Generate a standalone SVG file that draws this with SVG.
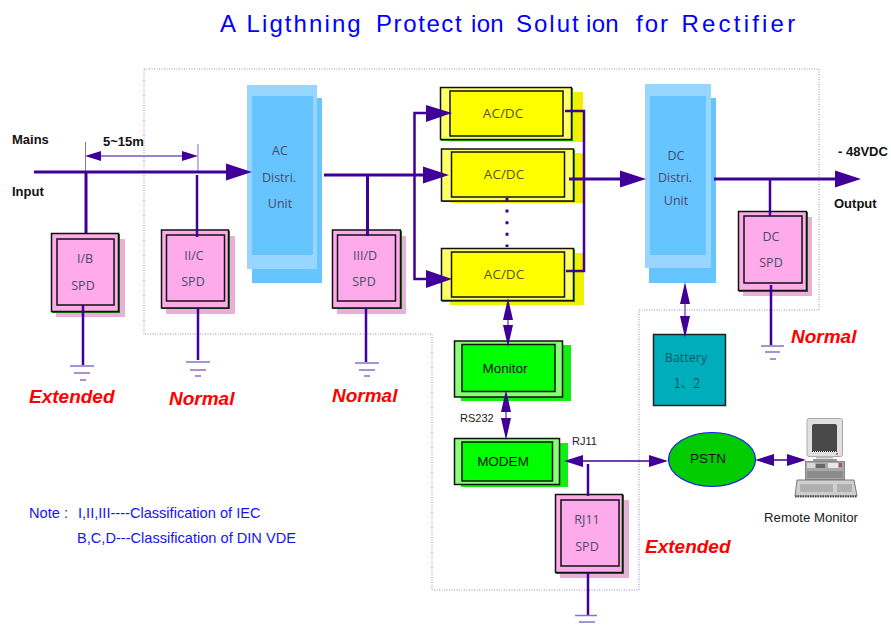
<svg xmlns="http://www.w3.org/2000/svg" width="891" height="628" viewBox="0 0 891 628">
<style>
text{font-family:"Liberation Sans",Arial,sans-serif}
.title{font-size:24px;fill:#0000ff}
.b{font-size:13px;font-weight:bold;fill:#111}
.red{font-size:19px;font-weight:bold;font-style:italic;fill:#ff0000}
.note{font-size:14.600px;fill:#1414f5}
.sm{font-size:11px;fill:#222}
.c{text-anchor:middle}
.lbl{font-family:"Open Sans","Noto Sans",sans-serif;font-size:12.500px;fill:#4a4a68;text-anchor:middle}
.lbl2{font-size:13.500px;fill:#55551e}
.blk{font-size:13.500px;fill:#111;text-anchor:middle}
.ol{stroke:#111;stroke-width:1.5}
.sp{fill:#e8b0d8}
.pk{fill:#ffaaea}
.ye{fill:#ffff66}
.yi{fill:#ffff00}
.ys{fill:#f0f000}
.gr{fill:#88ff77}
.gi{fill:#00ff00}
.gs{fill:#11ee11}
.wire{stroke:#400098;fill:none;stroke-linecap:butt}
.w3{stroke-width:3}
.w2{stroke-width:2.5}
.lt{stroke:#9a7fd0;stroke-width:2;fill:none}
.gnd{stroke:#8a6fc8;stroke-width:1.5;fill:none}
.bd{fill:none;stroke:#9a88cc;stroke-width:1;stroke-dasharray:1 1.5}
.a{fill:#400098}
</style>
<defs>
<marker id="big" markerUnits="userSpaceOnUse" markerWidth="27" markerHeight="18" refX="0" refY="9" orient="auto-start-reverse"><path class="a" d="M0 0.5L26 9L0 17.5Z"/></marker>
<marker id="dbl" markerUnits="userSpaceOnUse" markerWidth="24" markerHeight="11" refX="0" refY="5.5" orient="auto-start-reverse"><path class="a" d="M0 0.5L22 5.5L0 10.5Z"/></marker>
<marker id="mid" markerUnits="userSpaceOnUse" markerWidth="20" markerHeight="13" refX="0" refY="6.5" orient="auto-start-reverse"><path class="a" d="M0 0.5L19 6.5L0 12.5Z"/></marker>
</defs>
<rect width="891" height="628" fill="#fff"/>
<text class="title" y="32"><tspan x="220">A</tspan><tspan x="246.500" style="letter-spacing:2.100px">Ligthning</tspan><tspan x="376" style="letter-spacing:1.600px">Protect</tspan><tspan x="471" style="letter-spacing:0.300px">ion</tspan><tspan x="516" style="letter-spacing:2px">Solut</tspan><tspan x="586" style="letter-spacing:0.300px">ion</tspan><tspan x="636" style="letter-spacing:2px">for</tspan><tspan x="681.500" style="letter-spacing:3.200px">Rectifier</tspan></text>
<path class="bd" d="M144 69H819V310H639V590H432V334H144Z"/>

<g id="ac-unit">
<rect x="252" y="98" width="70" height="185" fill="#66c4ff"/>
<rect x="247" y="85" width="70" height="184" fill="#99d6ff"/>
<rect x="252" y="96" width="61" height="159" fill="#66c4ff"/>
<text class="lbl" x="280" y="155">AC</text><text class="lbl" x="279" y="182">Distri.</text><text class="lbl" x="280" y="208">Unit</text>
</g>
<g id="dc-unit">
<rect x="649" y="98" width="67" height="185" fill="#66c4ff"/>
<rect x="645" y="84" width="66" height="184" fill="#99d6ff"/>
<rect x="650" y="96" width="56" height="159" fill="#66c4ff"/>
<text class="lbl" x="676" y="160">DC</text><text class="lbl" x="675" y="182">Distri.</text><text class="lbl" x="676" y="205">Unit</text>
</g>

<g id="spd-ib">
<rect class="sp" x="56" y="239" width="69" height="78"/><rect x="52" y="234" width="68" height="79" fill="#0a8a0a"/>
<rect class="pk ol" x="51.500" y="233.500" width="67" height="78"/><rect class="pk ol" x="57" y="239" width="57" height="66"/>
<text class="lbl" x="85" y="263">I/B</text><text class="lbl" x="83" y="290">SPD</text>
</g>
<g id="spd-iic">
<rect class="sp" x="166" y="236" width="69" height="78"/><rect x="162" y="231" width="68" height="78" fill="#0a8a0a"/>
<rect class="pk ol" x="161.500" y="230" width="67" height="78"/><rect class="pk ol" x="166.500" y="235" width="58" height="66"/>
<text class="lbl" x="194" y="260">II/C</text><text class="lbl" x="193" y="286">SPD</text>
</g>
<g id="spd-iiid">
<rect class="sp" x="337" y="236" width="69" height="78"/><rect x="333" y="231" width="69" height="78" fill="#0a8a0a"/>
<rect class="pk ol" x="332.500" y="230" width="68" height="78"/><rect class="pk ol" x="337.500" y="235" width="58" height="66"/>
<text class="lbl" x="365" y="260">III/D</text><text class="lbl" x="364" y="286">SPD</text>
</g>
<g id="spd-dc">
<rect class="sp" x="743" y="217" width="69" height="79"/><rect x="739" y="212" width="69" height="80" fill="#0a8a0a"/>
<rect class="pk ol" x="738.500" y="211.500" width="68" height="79"/><rect class="pk ol" x="744" y="216" width="58" height="67"/>
<text class="lbl" x="771" y="241">DC</text><text class="lbl" x="771" y="267">SPD</text>
</g>
<g id="spd-rj11">
<rect class="sp" x="560" y="500" width="69" height="78"/><rect x="556" y="495" width="68" height="79" fill="#0a8a0a"/>
<rect class="pk ol" x="555.500" y="494.500" width="67" height="78"/><rect class="pk ol" x="561" y="500" width="58" height="66"/>
<text class="lbl" x="587" y="524">RJ11</text><text class="lbl" x="587" y="551">SPD</text>
</g>

<g id="acdc-1">
<rect class="ys" x="449" y="92" width="134" height="50"/><rect x="441" y="88" width="132" height="53" fill="#22aa00"/>
<rect class="ye ol" x="440.500" y="87.500" width="131" height="52"/><rect class="yi ol" x="450" y="91" width="113" height="45"/>
<text class="lbl lbl2" x="503" y="118">AC/DC</text>
</g>
<g id="acdc-2">
<rect class="ys" x="450" y="153" width="134" height="50"/><rect x="442" y="150" width="133" height="52" fill="#22aa00"/>
<rect class="ye ol" x="441.500" y="149" width="132" height="52"/><rect class="yi ol" x="451.500" y="152" width="113" height="45"/>
<text class="lbl lbl2" x="504" y="179">AC/DC</text>
</g>
<g id="acdc-3">
<rect class="ys" x="450" y="253" width="134" height="52"/><rect x="442" y="249" width="133" height="53" fill="#22aa00"/>
<rect class="ye ol" x="441.500" y="248.500" width="132" height="52"/><rect class="yi ol" x="451.500" y="252" width="113" height="45"/>
<text class="lbl lbl2" x="504" y="279">AC/DC</text>
</g>

<g id="monitor">
<rect class="gs" x="461" y="345" width="110" height="56"/>
<rect class="gr ol" x="454.500" y="341" width="108" height="56"/><rect class="gi ol" x="462" y="344.500" width="93" height="47"/>
<text class="blk" x="505" y="373">Monitor</text>
</g>
<g id="modem">
<rect class="gs" x="461" y="443" width="107" height="44"/>
<rect class="gr ol" x="454.500" y="438.500" width="105" height="46"/><rect class="gi ol" x="462" y="442" width="90.500" height="39"/>
<text class="blk" x="503" y="466">MODEM</text>
</g>
<g id="battery">
<rect x="653.500" y="334.500" width="72" height="71" fill="#00adbb" stroke="#222" stroke-width="1.500"/>
<text class="lbl" x="686" y="362" style="fill:#0a5a68">Battery</text>
<text class="lbl" x="687" y="388" style="fill:#0a5a68;font-family:'Noto Sans CJK SC','Noto Sans',sans-serif">1、2</text>
</g>
<g id="pstn">
<ellipse cx="712" cy="459.500" rx="43.500" ry="27" fill="#00cc00" stroke="#1a1aee" stroke-width="1.200"/>
<text class="blk" x="708" y="463">PSTN</text>
</g>
<g id="remote-monitor">
<rect x="807" y="418.500" width="35.500" height="38" rx="2" fill="#e0e0e0" stroke="#aaa"/>
<path d="M812 426Q812 424 814 424H835Q837 424 837 426V451H812Z" fill="#484848"/>
<path d="M812 451.500H837" stroke="#222" stroke-dasharray="1 1" fill="none"/>
<rect x="836" y="453" width="2" height="2" fill="#ee6644"/>
<rect x="816" y="456.500" width="17" height="2" fill="#bbb"/>
<rect x="813" y="459" width="24" height="2" fill="#999"/>
<rect x="805.500" y="461.500" width="39" height="18" fill="#a8a8a8" stroke="#888"/>
<rect x="807" y="463" width="8" height="5" fill="#d8d8d8"/>
<rect x="816" y="464" width="9" height="4" fill="#666"/>
<rect x="828" y="463" width="10" height="5" fill="#e8e8e8"/>
<rect x="839" y="463" width="3" height="4" fill="#a55"/>
<rect x="807" y="471" width="36" height="7" fill="#8c8c8c"/>
<path d="M797 480H854L857 496H795Z" fill="#cfcfcf" stroke="#777"/>
<rect x="800" y="484" width="33" height="8" fill="#b0b0b0"/><rect x="837" y="484" width="15" height="8" fill="#b0b0b0"/>
<path d="M795 496.500H857" stroke="#444" stroke-width="2" stroke-dasharray="1.500 1"/>
<text x="811" y="522" class="c" style="font-size:13.200px;fill:#222">Remote Monitor</text>
</g>

<g id="connectors">
<path class="lt" d="M101 156H182"/>
<path class="wire" stroke-width="1" style="stroke:#8a6fc8" d="M85.500 142V172M198 144V172"/>
<path class="a" d="M101 151L85 156L101 161ZM182 151L198 156L182 161Z"/>
<path class="wire w3" d="M34 172H226" marker-end="url(#big)"/>
<path class="wire w3" d="M86 172V233"/>
<path class="wire w2" d="M197 175V237"/>
<path class="wire w2" d="M83 305V365M198 308V360M366 308V362M771 285V345M588 573V615"/>
<path class="wire w3" d="M324 175H423" marker-end="url(#big)"/>
<path class="wire w3" d="M367.500 175V236"/>
<path class="wire w2" d="M426 113H414.500V279H426"/>
<path class="a" d="M426 105L452 113L426 122ZM426 270L452 279L426 288Z"/>
<path class="wire w2" d="M565 111H584V271H566"/>
<path class="wire w3" d="M569 179H620" marker-end="url(#big)"/>
<path class="wire w3" d="M714 179H835" marker-end="url(#big)"/>
<path class="wire w2" d="M770 179V216"/>
<path class="wire w3" d="M507 198V247" stroke-dasharray="3 8.600"/>
<path class="lt" d="M508 320V325" marker-start="url(#dbl)" marker-end="url(#dbl)"/>
<path class="lt" d="M506 412V418" marker-start="url(#dbl)" marker-end="url(#dbl)"/>
<path class="lt" d="M685 304V316" marker-start="url(#dbl)" marker-end="url(#dbl)"/>
<path class="wire" stroke-width="1.500" d="M583 461H649" marker-start="url(#mid)" marker-end="url(#mid)"/>
<path class="wire w2" d="M588 464V496"/>
<path class="wire" stroke-width="1.500" d="M774 460H787" marker-start="url(#mid)" marker-end="url(#mid)"/>
<path class="gnd" d="M70 366H94M74 373H90M80 380H86M186 362H210M190 370H206M195 376H201M355 363H379M359 370H375M364 376H370M761 346H784M765 352H780M770 359H776M575 615.500H597M579 622H595"/>
</g>

<text class="b" x="12" y="144">Mains</text>
<text class="b" x="12" y="196">Input</text>
<text class="b" x="103" y="146">5~15m</text>
<text class="b" x="838" y="156">- 48VDC</text>
<text class="b" x="834" y="208">Output</text>
<text class="red" x="29" y="403">Extended</text>
<text class="red" x="169" y="405">Normal</text>
<text class="red" x="332" y="402">Normal</text>
<text class="red" x="791" y="343">Normal</text>
<text class="red" x="645" y="553">Extended</text>
<text class="sm" x="460" y="422">RS232</text>
<text class="sm" x="572" y="445">RJ11</text>
<text class="note" y="518"><tspan x="29">Note :</tspan><tspan x="78">I,II,III----Classification of IEC</tspan></text>
<text class="note" x="77" y="543">B,C,D---Classification of DIN VDE</text>
</svg>
